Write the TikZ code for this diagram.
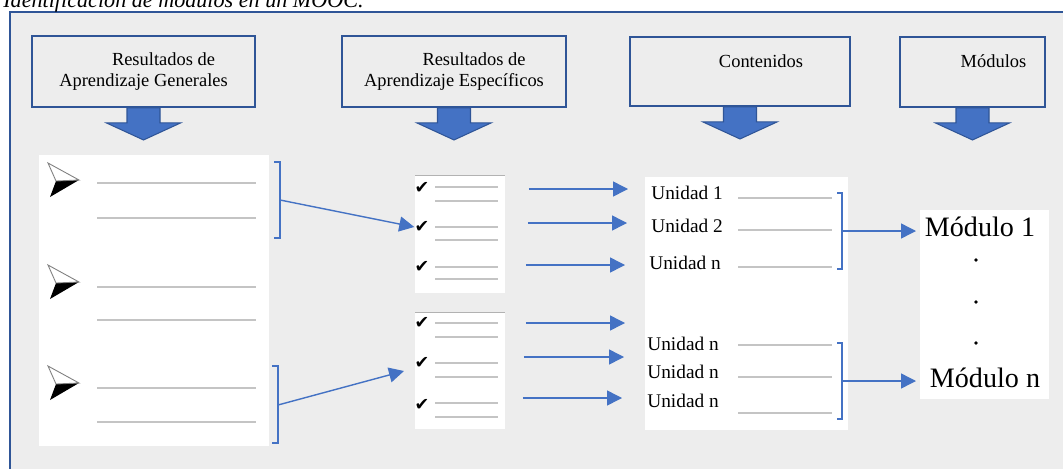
\documentclass[tikz,border=0pt]{standalone}
\usepackage{fontspec}
\setmainfont{Liberation Serif}
\newfontfamily\symfont{DejaVu Sans}
\usetikzlibrary{arrows.meta}

\definecolor{panelgray}{HTML}{EDEDED}
\definecolor{frameblue}{HTML}{2F5597}
\definecolor{linkblue}{HTML}{4472C4}
\definecolor{rulegray}{HTML}{C4C4C4}

\begin{document}
\begin{tikzpicture}[
  x=0.02cm,
  y=-0.02cm,
  header/.style={
      rectangle,
      draw=frameblue,
      line width=1.1pt,
      fill=panelgray,
      align=center,
      inner sep=0pt,
      font=\fontsize{10.5}{12}\selectfont
  },
  panel/.style={
      rectangle,
      fill=white,
      inner sep=0pt,
      outer sep=0pt
  },
  unit/.style={
      anchor=west,
      inner sep=0pt,
      font=\fontsize{11}{13}\selectfont
  },
  module/.style={
      inner sep=0pt,
      font=\fontsize{16}{18}\selectfont
  },
  check/.style={
      inner sep=0pt,
      font=\symfont\fontsize{10}{11}\selectfont
  },
  rule/.style={
      draw=rulegray,
      line width=0.8pt
  },
  brace/.style={
      draw=linkblue,
      line width=0.8pt
  },
  link/.style={
      draw=linkblue,
      line width=0.8pt,
      -{Triangle[length=0.3cm,width=0.3cm]}
  },
  downarrow/.pic={
      \draw[fill=linkblue, draw=frameblue, line width=0.6pt]
        (-16.5,0) -- (-16.5,15) -- (-37,15) -- (0,32)
        -- (37,15) -- (16.5,15) -- (16.5,0) -- cycle;
  },
  pointer/.pic={
      \fill[black] (-7,1) -- (16,0) -- (-13,17) -- cycle;
      \draw[gray, fill=white, line width=0.5pt]
        (-15,-17) -- (16,0) -- (-7,1) -- cycle;
  }
]

\useasboundingbox (0,0) rectangle (1063,468);

% ==================================================
% Frame and Caption
% ==================================================

\draw[draw=frameblue, line width=1.4pt, fill=panelgray]
      (10,12) rectangle (1080,490);

\node[anchor=base west, inner sep=0pt,
      font=\itshape\fontsize{12.6}{14}\selectfont]
      (title) at (3,7)
      {Identificación de módulos en un MOOC.};

% ==================================================
% Headers
% ==================================================

\node[header, minimum width=4.46cm, minimum height=1.42cm]
      (hdGen) at (143.5,71.5)
      {\hspace*{0.8cm}Resultados de\\Aprendizaje Generales};

\node[header, minimum width=4.48cm, minimum height=1.42cm]
      (hdSpec) at (454,71.5)
      {\hspace*{0.8cm}Resultados de\\Aprendizaje Específicos};

\node[header, minimum width=4.4cm, minimum height=1.38cm]
      (hdCont) at (740,71.5)
      {\hspace*{0.84cm}Contenidos\\\mbox{}};

\node[header, minimum width=2.9cm, minimum height=1.4cm]
      (hdMod) at (972.5,72)
      {\hspace*{0.84cm}Módulos\\\mbox{}};

\pic at (hdGen.south) {downarrow};
\pic at (hdSpec.south) {downarrow};
\pic at (hdCont.south) {downarrow};
\pic at (hdMod.south) {downarrow};

% ==================================================
% General Outcomes
% ==================================================

\node[panel, minimum width=4.6cm, minimum height=5.82cm]
      (goals) at (154,300.5) {};

\pic at (63,180) {pointer};
\pic at (63,282) {pointer};
\pic at (63,383) {pointer};

\draw[rule] (97,183) -- (256,183);
\draw[rule] (97,218) -- (256,218);
\draw[rule] (97,287) -- (256,287);
\draw[rule] (97,320) -- (256,320);
\draw[rule] (97,388) -- (256,388);
\draw[rule] (97,422) -- (256,422);

\draw[brace] (274,162) -| (280,238) -- (274,238);
\draw[brace] (272,366) -| (278,443) -- (272,443);

\coordinate (brGenA) at (280,200);
\coordinate (brGenB) at (278,405);

% ==================================================
% Specific Outcomes
% ==================================================

\node[panel, minimum width=1.8cm, minimum height=2.36cm]
      (specA) at (460,234) {};

\node[panel, minimum width=1.8cm, minimum height=2.34cm]
      (specB) at (460,370.5) {};

\draw[draw=gray!60, line width=0.5pt]
      (specA.north west) -- (specA.north east);
\draw[draw=gray!60, line width=0.5pt]
      (specB.north west) -- (specB.north east);

\node[check] (chkA1) at (422,188) {✔};
\node[check] (chkA2) at (422,227) {✔};
\node[check] (chkA3) at (422,267) {✔};
\node[check] (chkB1) at (422,323) {✔};
\node[check] (chkB2) at (422,363) {✔};
\node[check] (chkB3) at (422,405) {✔};

\draw[rule] (435,187) -- (498,187);
\draw[rule] (435,201) -- (498,201);
\draw[rule] (435,227) -- (498,227);
\draw[rule] (435,240) -- (498,240);
\draw[rule] (435,267) -- (498,267);
\draw[rule] (435,279) -- (498,279);
\draw[rule] (435,323) -- (498,323);
\draw[rule] (435,337) -- (498,337);
\draw[rule] (435,363) -- (498,363);
\draw[rule] (435,377) -- (498,377);
\draw[rule] (435,403) -- (498,403);
\draw[rule] (435,417) -- (498,417);

\coordinate (tipB) at (404,371);

\draw[link] (brGenA) -- (chkA2.west);
\draw[link] (brGenB) -- (tipB);

% ==================================================
% Contents
% ==================================================

\node[panel, minimum width=4.06cm, minimum height=5.06cm]
      (units) at (746.5,303.5) {};

\node[unit] (unA1) at (651,193) {Unidad 1};
\node[unit] (unA2) at (651,226) {Unidad 2};
\node[unit] (unA3) at (649,263) {Unidad n};
\node[unit] (unB1) at (647,344) {Unidad n};
\node[unit] (unB2) at (647,372) {Unidad n};
\node[unit] (unB3) at (647,401) {Unidad n};

\draw[rule] (738,198) -- (832,198);
\draw[rule] (738,230) -- (832,230);
\draw[rule] (738,267) -- (832,267);
\draw[rule] (738,345) -- (832,345);
\draw[rule] (738,377) -- (832,377);
\draw[rule] (738,413) -- (832,413);

\coordinate (rowA1) at (0,189);
\coordinate (rowA2) at (0,223);
\coordinate (rowA3) at (0,265);
\coordinate (rowB1) at (0,323);
\coordinate (rowB2) at (0,357);
\coordinate (rowB3) at (0,398);

\draw[link, shorten <=0.48cm, shorten >=0.34cm]
      (specA.east |- rowA1) -- (units.west |- rowA1);
\draw[link, shorten <=0.46cm, shorten >=0.36cm]
      (specA.east |- rowA2) -- (units.west |- rowA2);
\draw[link, shorten <=0.42cm, shorten >=0.4cm]
      (specA.east |- rowA3) -- (units.west |- rowA3);
\draw[link, shorten <=0.42cm, shorten >=0.4cm]
      (specB.east |- rowB1) -- (units.west |- rowB1);
\draw[link, shorten <=0.38cm, shorten >=0.42cm]
      (specB.east |- rowB2) -- (units.west |- rowB2);
\draw[link, shorten <=0.36cm, shorten >=0.46cm]
      (specB.east |- rowB3) -- (units.west |- rowB3);

\draw[brace] (837,193) -| (842,269) -- (837,269);
\draw[brace] (837,343) -| (842,419) -- (837,419);

\coordinate (brUnA) at (842,231);
\coordinate (brUnB) at (842,381);

% ==================================================
% Modules
% ==================================================

\node[panel, minimum width=2.58cm, minimum height=3.78cm]
      (mods) at (984.5,304.5) {};

\node[module] (modA) at (980,227) {Módulo 1};
\node[module] (modB) at (985,378) {Módulo n};

\fill (976,260) circle[radius=1.1pt];
\fill (976,302) circle[radius=1.1pt];
\fill (976,343) circle[radius=1.1pt];

\draw[link, shorten >=0.08cm] (brUnA) -- (brUnA -| mods.west);
\draw[link, shorten >=0.08cm] (brUnB) -- (brUnB -| mods.west);

\end{tikzpicture}
\end{document}
